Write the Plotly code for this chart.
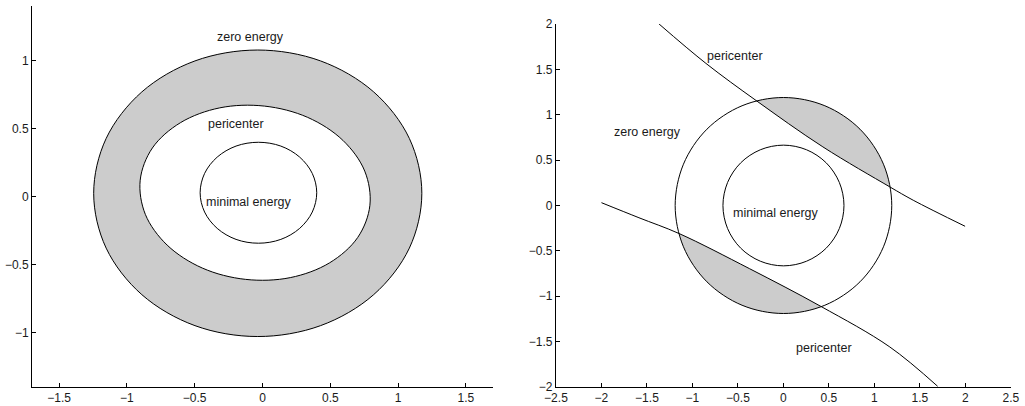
import plotly.graph_objects as go

# ---------------- Left panel data (closed curves) ----------------
zero_x = [1.175, 1.083, 0.820, 0.428, -0.035, -0.498, -0.890, -1.153, -1.245,
          -1.153, -0.890, -0.498, -0.035, 0.428, 0.820, 1.083, 1.175]
zero_y = [0.024, 0.427, 0.769, 0.997, 1.077, 0.997, 0.769, 0.427, 0.024,
          -0.379, -0.721, -0.949, -1.029, -0.949, -0.721, -0.379, 0.024]

peri_x = [0.792, 0.754, 0.593, 0.333, 0.014, -0.315, -0.605, -0.812, -0.902,
          -0.864, -0.703, -0.443, -0.124, 0.205, 0.495, 0.702, 0.792]
peri_y = [-0.064, 0.187, 0.413, 0.582, 0.665, 0.652, 0.543, 0.357, 0.120,
          -0.131, -0.357, -0.526, -0.609, -0.596, -0.487, -0.301, -0.064]

mini_x = [0.400, 0.367, 0.274, 0.135, -0.030, -0.195, -0.334, -0.427, -0.460,
          -0.427, -0.334, -0.195, -0.030, 0.135, 0.274, 0.367, 0.400]
mini_y = [0.028, 0.170, 0.290, 0.371, 0.399, 0.371, 0.290, 0.170, 0.028,
          -0.114, -0.234, -0.315, -0.343, -0.315, -0.234, -0.114, 0.028]

left_labels = ["zero energy", "pericenter", "minimal energy"]
left_label_x = [-0.085, -0.196, -0.098]
left_label_y = [1.176, 0.534, -0.037]

left_xticks = [-1.5, -1, -0.5, 0, 0.5, 1, 1.5]
left_yticks = [-1, -0.5, 0, 0.5, 1]

# ---------------- Right panel data ----------------
rzero_x = [1.19, 1.099, 0.841, 0.455, 0.0, -0.455, -0.841, -1.099, -1.19,
           -1.099, -0.841, -0.455, 0.0, 0.455, 0.841, 1.099, 1.19]
rzero_y = [0.0, 0.455, 0.841, 1.099, 1.19, 1.099, 0.841, 0.455, 0.0,
           -0.455, -0.841, -1.099, -1.19, -1.099, -0.841, -0.455, 0.0]

rmini_x = [0.665, 0.614, 0.470, 0.254, 0.0, -0.254, -0.470, -0.614, -0.665,
           -0.614, -0.470, -0.254, 0.0, 0.254, 0.470, 0.614, 0.665]
rmini_y = [0.0, 0.254, 0.470, 0.614, 0.665, 0.614, 0.470, 0.254, 0.0,
           -0.254, -0.470, -0.614, -0.665, -0.614, -0.470, -0.254, 0.0]

upper_x = [-1.367, -0.852, -0.301, 0.433, 1.169, 1.426, 1.996]
upper_y = [2.0, 1.566, 1.157, 0.646, 0.205, 0.058, -0.229]

lower_x = [-2.0, -1.588, -1.147, -0.375, 0.408, 1.169, 1.694]
lower_y = [0.031, -0.135, -0.309, -0.695, -1.110, -1.559, -1.992]

right_labels = ["pericenter", "zero energy", "minimal energy", "pericenter"]
right_label_x = [-0.535, -1.496, -0.081, 0.441]
right_label_y = [1.646, 0.805, -0.081, -1.574]

right_xticks = [-2.5, -2, -1.5, -1, -0.5, 0, 0.5, 1, 1.5, 2, 2.5]
right_yticks = [-2, -1.5, -1, -0.5, 0, 0.5, 1, 1.5, 2]

GREY = "#cccccc"
FONT = "Liberation Sans, Arial, Helvetica, sans-serif"
LW = 1

fig = go.Figure()

def curve(x, y, xa, ya, fill=None, fillcolor=None, line=True):
    kw = dict(x=x, y=y, mode="lines", xaxis=xa, yaxis=ya, hoverinfo="skip",
              showlegend=False,
              line=dict(color="black" if line else "rgba(0,0,0,0)",
                        width=LW if line else 0, shape="spline"))
    if fill:
        kw["fill"] = fill
        kw["fillcolor"] = fillcolor
    fig.add_trace(go.Scatter(**kw))

# left panel
curve(zero_x, zero_y, "x", "y", "toself", GREY)
curve(peri_x, peri_y, "x", "y", "toself", "white")
curve(mini_x, mini_y, "x", "y")

# right panel
curve(rzero_x, rzero_y, "x2", "y2", "toself", GREY, line=False)
band_x = upper_x + lower_x[::-1] + upper_x[:1]
band_y = upper_y + lower_y[::-1] + upper_y[:1]
curve(band_x, band_y, "x2", "y2", "toself", "white", line=False)
curve(rzero_x, rzero_y, "x2", "y2")
curve(rmini_x, rmini_y, "x2", "y2")
curve(upper_x, upper_y, "x2", "y2")
curve(lower_x, lower_y, "x2", "y2")

annotations = []
for t, x, y in zip(left_labels, left_label_x, left_label_y):
    annotations.append(dict(text=t, x=x, y=y, xref="x", yref="y", showarrow=False,
                            font=dict(size=12.5, color="#1a1a1a", family=FONT)))
for t, x, y in zip(right_labels, right_label_x, right_label_y):
    annotations.append(dict(text=t, x=x, y=y, xref="x2", yref="y2", showarrow=False,
                            font=dict(size=12.5, color="#1a1a1a", family=FONT)))

axis_common = dict(showgrid=False, zeroline=False, showline=True, linecolor="black",
                   linewidth=1, ticks="inside", ticklen=4, tickcolor="black",
                   tickwidth=1, mirror=False, automargin=False,
                   tickfont=dict(size=12, color="#1a1a1a", family=FONT))

fig.update_layout(
    width=1025, height=406,
    margin=dict(l=0, r=0, t=0, b=0),
    paper_bgcolor="white", plot_bgcolor="white",
    annotations=annotations,
    xaxis=dict(domain=[0.0312, 0.481], range=[-1.7, 1.7], anchor="y",
               tickvals=left_xticks, **axis_common),
    yaxis=dict(domain=[0.0468, 0.985], range=[-1.4, 1.4], anchor="x",
               tickvals=left_yticks, **axis_common),
    xaxis2=dict(domain=[0.5424, 0.9863], range=[-2.5, 2.5], anchor="y2",
                tickvals=right_xticks, **axis_common),
    yaxis2=dict(domain=[0.0468, 0.9409], range=[-2, 2], anchor="x2",
                tickvals=right_yticks, **axis_common),
)

fig.write_html("out.html")
